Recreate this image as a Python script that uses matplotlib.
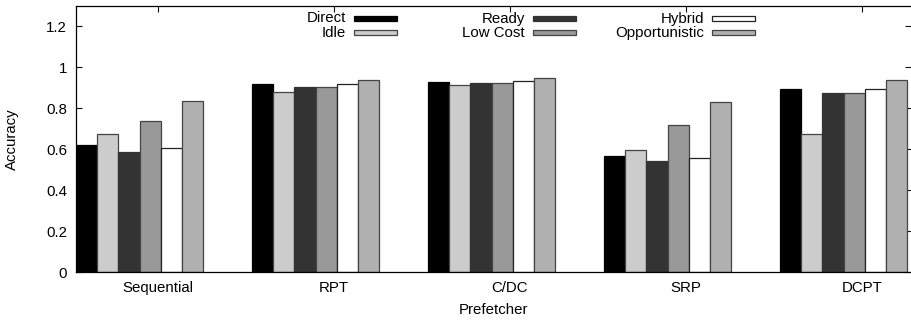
import matplotlib
matplotlib.use("Agg")
import matplotlib.pyplot as plt
from matplotlib.patches import Rectangle
import numpy as np

plt.rcParams["font.family"] = ["Liberation Sans", "DejaVu Sans"]
plt.rcParams["font.size"] = 10.8

prefetchers = ["Sequential", "RPT", "C/DC", "SRP", "DCPT"]
policies = ["Direct", "Idle", "Ready", "Low Cost", "Hybrid", "Opportunistic"]

direct = [0.619, 0.920, 0.931, 0.569, 0.892]
idle = [0.672, 0.881, 0.913, 0.596, 0.672]
ready = [0.587, 0.902, 0.925, 0.541, 0.873]
low_cost = [0.739, 0.904, 0.925, 0.717, 0.877]
hybrid = [0.605, 0.920, 0.933, 0.557, 0.894]
opportunistic = [0.835, 0.938, 0.946, 0.832, 0.940]

series = [direct, idle, ready, low_cost, hybrid, opportunistic]
fills = ["#000000", "#cccccc", "#333333", "#999999", "#ffffff", "#b0b0b0"]
edges = ["#000000", "#444444", "#333333", "#444444", "#222222", "#444444"]

W, H = 911, 320
fig = plt.figure(figsize=(W / 100, H / 100), dpi=100)
ax = fig.add_axes([76 / W, 1 - 272 / H, (W - 76) / W, (272 - 6) / H])

bar_w = 0.1205
tick_off = 0.464
groups = np.arange(len(prefetchers))
for k, (vals, fc, ec) in enumerate(zip(series, fills, edges)):
    ax.bar(groups + (k + 0.5) * bar_w, vals, width=bar_w, color=fc,
           edgecolor=ec, linewidth=0.9, zorder=2)

ax.set_xlim(0, 4.744)
ax.set_ylim(0, 1.3)
ax.set_xticks(groups + tick_off)
ax.set_xticklabels(prefetchers)
ax.set_yticks(np.arange(0, 1.21, 0.2))
ax.yaxis.set_major_formatter(matplotlib.ticker.FormatStrFormatter("%g"))

ax.tick_params(axis="both", direction="in", length=4.3, width=0.8,
               top=True, right=True, color="#111111")
ax.tick_params(axis="x", pad=6.5)
ax.tick_params(axis="y", pad=6.5)
for side in ["left", "top", "bottom"]:
    ax.spines[side].set_linewidth(0.9)
    ax.spines[side].set_zorder(3)
ax.spines["right"].set_visible(False)

ax.set_xlabel("Prefetcher", labelpad=6)
ax.set_ylabel("Accuracy")
ax.yaxis.set_label_coords(-0.068, 0.5)

# key: two rows, three columns, label to the left of its swatch
ax_w, ax_h = W - 76, 272 - 6
swatch_left = [354, 533, 712]
swatch_w = 43
row_centers = [18.5, 32.7]
for k, name in enumerate(policies):
    col, row = k // 2, k % 2
    xl = (swatch_left[col] - 76) / ax_w
    yc = 1 - (row_centers[row] - 6) / ax_h
    hh = 5 / ax_h
    ax.add_patch(Rectangle((xl, yc - hh / 2), swatch_w / ax_w, hh,
                           transform=ax.transAxes, facecolor=fills[k],
                           edgecolor=edges[k], linewidth=0.9, zorder=4,
                           clip_on=False))
    ax.text(xl - 8 / ax_w, yc, name, transform=ax.transAxes,
            ha="right", va="center", zorder=4)

fig.savefig("out.png", dpi=100)
